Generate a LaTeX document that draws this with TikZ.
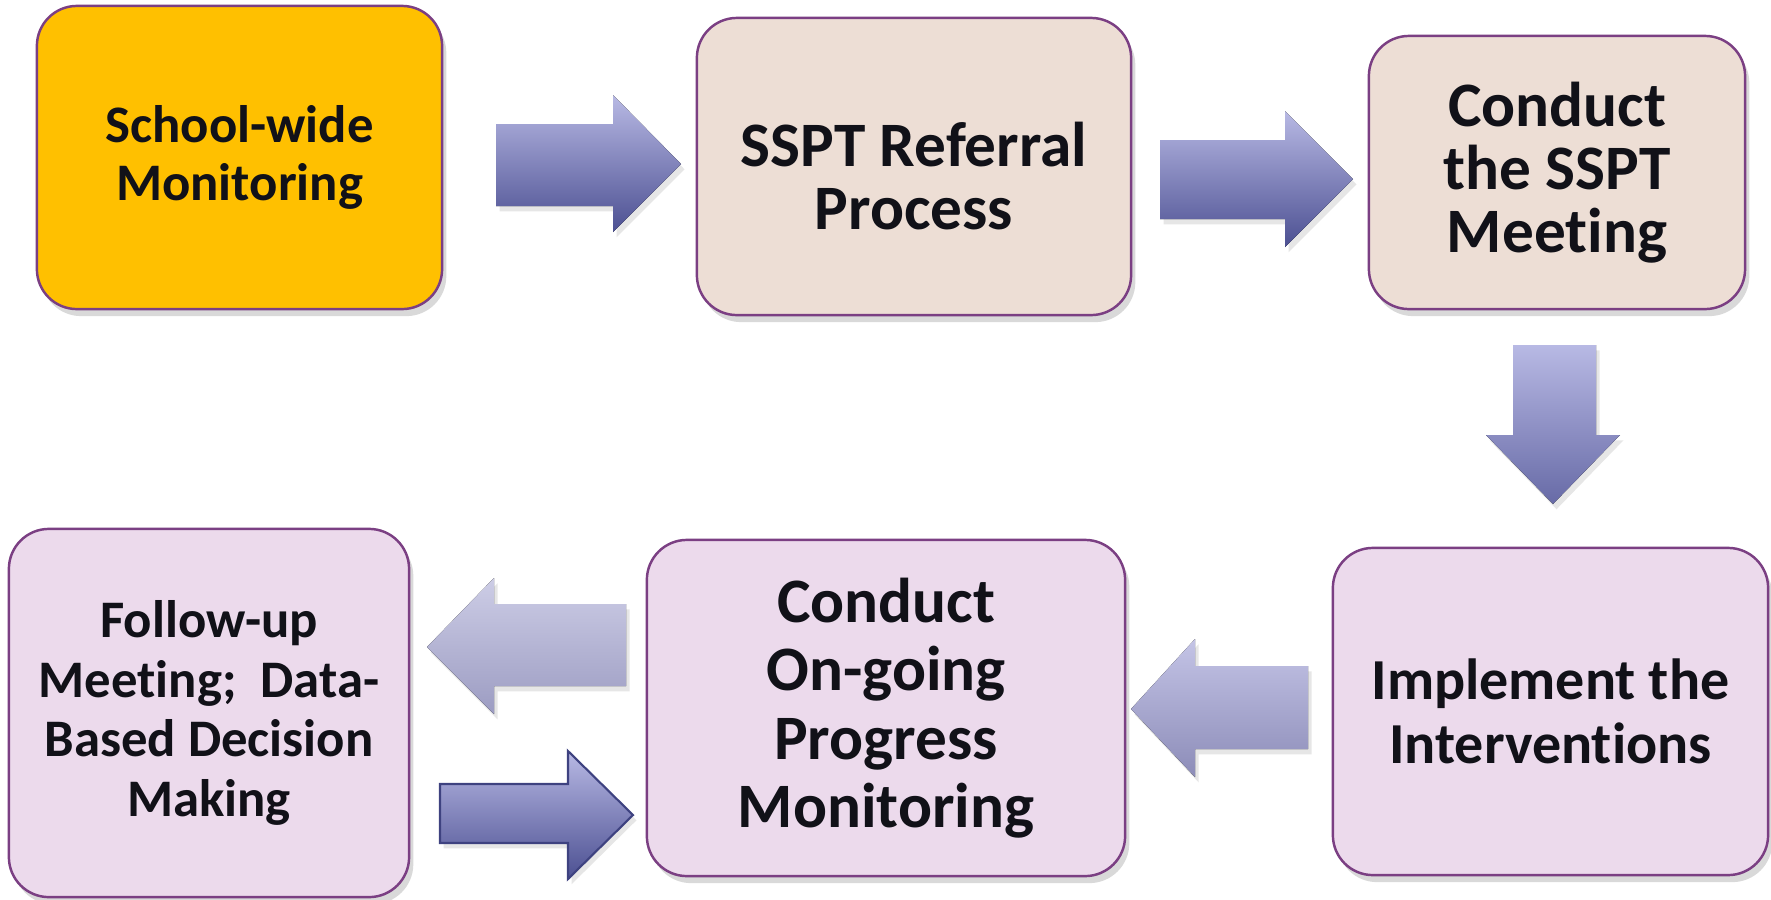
\documentclass[tikz,border=0pt]{standalone}
\usepackage{fontspec}
\setmainfont{Carlito}[Ligatures={NoCommon}]
\usetikzlibrary{shadows}
\definecolor{boxline}{HTML}{7B3F83}
\definecolor{gold}{HTML}{FFC000}
\definecolor{peach}{HTML}{EDDED5}
\definecolor{lilac}{HTML}{ECDAEC}
\definecolor{ink}{HTML}{111118}
\definecolor{arrtop}{HTML}{B8B9E4}
\definecolor{arrbot}{HTML}{4C5092}
\definecolor{softtop}{HTML}{C4C4E6}
\definecolor{softbot}{HTML}{8C8CB8}
\definecolor{paletop}{HTML}{CDCDE6}
\definecolor{palebot}{HTML}{9C9CC2}
\definecolor{arrline}{HTML}{3E4280}
\tikzset{
  stagebox/.style={draw=boxline, line width=0.7pt, rounded corners=0.4cm, align=center,
    text=ink, inner sep=0pt,
    drop shadow={shadow xshift=1.2pt, shadow yshift=-2pt, opacity=0.3}},
  blockarrow/.style={top color=arrtop, bottom color=arrbot,
    drop shadow={shadow xshift=1pt, shadow yshift=-1.5pt, opacity=0.2}},
}
\begin{document}
\begin{tikzpicture}[x=0.01cm, y=-0.01cm]
\useasboundingbox (0,0) rectangle (1771,899);
\def\sz#1#2{\bfseries\fontsize{#1}{#2}\selectfont}

\node[stagebox, fill=gold, minimum width=4.05cm, minimum height=3.03cm, font=\sz{15}{16.5}] (mon) at (239.5, 157.5) {School-wide\\Monitoring};
\node[stagebox, fill=peach, minimum width=4.34cm, minimum height=2.97cm, font=\sz{18}{18}] (ref) at (914, 166.5) {\rule{0pt}{18pt}SSPT Referral\\Process};
\node[stagebox, fill=peach, minimum width=3.76cm, minimum height=2.73cm, font=\sz{18}{18}] (meet) at (1557, 172.5) {Conduct\\the SSPT\\Meeting};
\node[stagebox, fill=lilac, minimum width=4.35cm, minimum height=3.27cm, font=\sz{16.5}{18.3}] (impl) at (1550.5, 711.5) {Implement the\\Interventions};
\node[stagebox, fill=lilac, minimum width=4.78cm, minimum height=3.36cm, font=\sz{18}{19.5}] (prog) at (886, 708) {Conduct\\On-going\\Progress\\Monitoring};
\node[stagebox, fill=lilac, minimum width=4.00cm, minimum height=3.68cm, font=\sz{15}{17}] (fol) at (209, 713) {Follow-up\\Meeting;~ Data-\\Based Decision\\Making};

\fill[blockarrow] (496,124) -- (613,124) -- (613,95) -- (681,164) -- (613,232) -- (613,206) -- (496,206) -- cycle;
\fill[blockarrow] (1160,140) -- (1285,140) -- (1285,111) -- (1353,179) -- (1285,247) -- (1285,219) -- (1160,219) -- cycle;
\fill[blockarrow, bottom color=arrbot!75!arrtop] (1513,345) -- (1596,345) -- (1596,435) -- (1620,435) -- (1553,504) -- (1486,435) -- (1513,435) -- cycle;
\fill[blockarrow, top color=softtop, bottom color=softbot] (1308,666) -- (1195,666) -- (1195,639) -- (1131,709) -- (1195,777) -- (1195,749) -- (1308,749) -- cycle;
\fill[blockarrow, top color=paletop, bottom color=palebot] (626,604) -- (494,604) -- (494,578) -- (427,647) -- (494,714) -- (494,686) -- (626,686) -- cycle;
\filldraw[blockarrow, draw=arrline, line width=0.6pt] (440,784) -- (568,784) -- (568,751) -- (633,815) -- (568,879) -- (568,843) -- (440,843) -- cycle;
\end{tikzpicture}
\end{document}
